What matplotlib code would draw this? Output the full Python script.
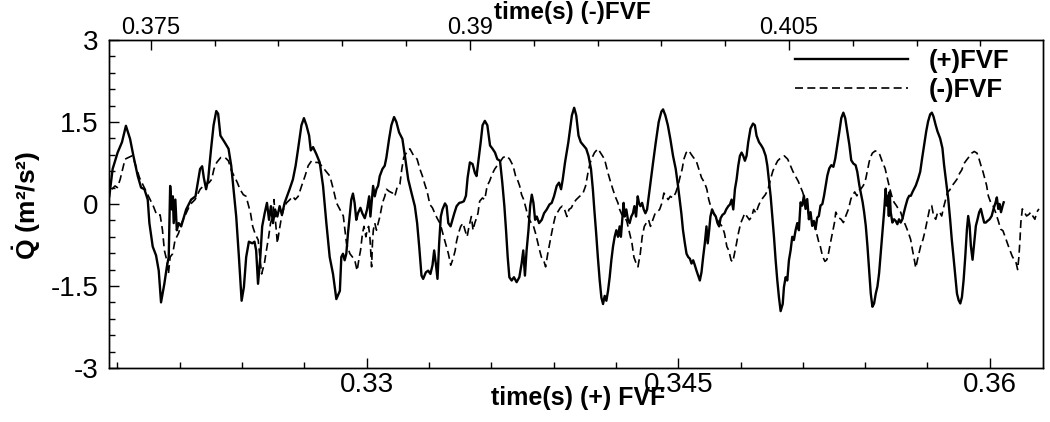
import matplotlib
matplotlib.use("Agg")
import matplotlib.pyplot as plt
from matplotlib.ticker import MultipleLocator

plt.rcParams['font.family'] = 'Liberation Sans'
plt.rcParams['mathtext.fontset'] = 'custom'
plt.rcParams['mathtext.rm'] = 'Liberation Sans'
plt.rcParams['mathtext.bf'] = 'Liberation Sans:bold'

# ------------------------------------------------------------
# data
# ------------------------------------------------------------

# (+)FVF, solid line, bottom time axis
t_pos = [
    0.31761, 0.31777, 0.31801, 0.31822, 0.31841, 0.31861, 0.31877, 0.31898, 0.31914, 0.31930,
    0.31946, 0.31954, 0.31970, 0.31986, 0.31999, 0.32010, 0.32026, 0.32038, 0.32047, 0.32054,
    0.32062, 0.32067, 0.32071, 0.32079, 0.32086, 0.32095, 0.32107, 0.32131, 0.32155, 0.32176,
    0.32187, 0.32198, 0.32208, 0.32216, 0.32227, 0.32237, 0.32243, 0.32251, 0.32263, 0.32276,
    0.32285, 0.32296, 0.32316, 0.32335, 0.32348, 0.32359, 0.32372, 0.32385, 0.32398, 0.32409,
    0.32420, 0.32433, 0.32449, 0.32460, 0.32468, 0.32477, 0.32488, 0.32497, 0.32509, 0.32520,
    0.32530, 0.32539, 0.32549, 0.32559, 0.32570, 0.32581, 0.32592, 0.32605, 0.32629, 0.32645,
    0.32658, 0.32670, 0.32686, 0.32698, 0.32710, 0.32723, 0.32731, 0.32742, 0.32758, 0.32774,
    0.32790, 0.32806, 0.32822, 0.32838, 0.32854, 0.32871,
    0.32878, 0.32886, 0.32894, 0.32902, 0.32910, 0.32918, 0.32926, 0.32934, 0.32942, 0.32950,
    0.32958, 0.32970, 0.32979, 0.32991, 0.33002, 0.33012, 0.33018, 0.33024, 0.33031, 0.33039,
    0.33047, 0.33055, 0.33063, 0.33076, 0.33087, 0.33095, 0.33108, 0.33119, 0.33132, 0.33143,
    0.33156, 0.33172, 0.33184, 0.33200, 0.33216, 0.33232, 0.33243, 0.33253, 0.33264, 0.33272,
    0.33285, 0.33296, 0.33307, 0.33317, 0.33325, 0.33333, 0.33341, 0.33349, 0.33357, 0.33365,
    0.33377, 0.33385, 0.33393, 0.33404, 0.33413, 0.33422, 0.33433, 0.33446, 0.33457, 0.33468,
    0.33478, 0.33486, 0.33497, 0.33510, 0.33521, 0.33529, 0.33537, 0.33549, 0.33558, 0.33569,
    0.33581, 0.33594, 0.33606, 0.33618, 0.33629, 0.33642, 0.33653, 0.33663, 0.33671, 0.33679,
    0.33687, 0.33698, 0.33709, 0.33722, 0.33735, 0.33746, 0.33754, 0.33762, 0.33770, 0.33779,
    0.33787, 0.33795, 0.33803, 0.33811, 0.33819, 0.33830, 0.33843, 0.33854, 0.33867, 0.33880,
    0.33891, 0.33902, 0.33915, 0.33926, 0.33936, 0.33944, 0.33955, 0.33971,
    0.33988, 0.33999, 0.34009, 0.34020, 0.34031, 0.34044, 0.34057, 0.34068, 0.34080, 0.34089,
    0.34096, 0.34105, 0.34113, 0.34122, 0.34130, 0.34138, 0.34146, 0.34154, 0.34162, 0.34170,
    0.34178, 0.34186, 0.34194, 0.34202, 0.34210, 0.34218, 0.34224, 0.34232, 0.34237, 0.34242,
    0.34250, 0.34258, 0.34266, 0.34274, 0.34282, 0.34289, 0.34297, 0.34305, 0.34311, 0.34318,
    0.34326, 0.34334, 0.34342, 0.34350, 0.34358, 0.34366, 0.34379, 0.34392, 0.34406, 0.34419,
    0.34427, 0.34438, 0.34450, 0.34462, 0.34475, 0.34488, 0.34499, 0.34507, 0.34515, 0.34523,
    0.34532, 0.34540, 0.34548, 0.34556, 0.34564, 0.34572, 0.34580, 0.34588, 0.34596, 0.34604,
    0.34612, 0.34620, 0.34628, 0.34636, 0.34642, 0.34649, 0.34655, 0.34663, 0.34671, 0.34681,
    0.34689, 0.34697, 0.34704, 0.34713, 0.34723, 0.34731, 0.34741, 0.34749, 0.34757, 0.34765,
    0.34773, 0.34781, 0.34789, 0.34797, 0.34805, 0.34813, 0.34821, 0.34829, 0.34837, 0.34848,
    0.34860, 0.34869, 0.34877, 0.34889, 0.34900, 0.34909, 0.34921, 0.34929, 0.34938, 0.34945,
    0.34953, 0.34961, 0.34969, 0.34977, 0.34985, 0.34993, 0.35003, 0.35009, 0.35017, 0.35025,
    0.35033, 0.35041, 0.35049, 0.35057, 0.35065, 0.35073, 0.35081,
    0.35089, 0.35097, 0.35105, 0.35113, 0.35121, 0.35129, 0.35137, 0.35145, 0.35153, 0.35161,
    0.35169, 0.35177, 0.35185, 0.35194, 0.35202, 0.35210, 0.35218, 0.35227, 0.35237, 0.35247,
    0.35256, 0.35266, 0.35276, 0.35285, 0.35295, 0.35304, 0.35314, 0.35324, 0.35333, 0.35343,
    0.35354, 0.35362, 0.35372, 0.35378, 0.35388, 0.35395, 0.35403, 0.35411, 0.35419, 0.35427,
    0.35435, 0.35443, 0.35451, 0.35459, 0.35467, 0.35475, 0.35483, 0.35491, 0.35499, 0.35504,
    0.35509, 0.35514, 0.35518, 0.35523, 0.35531, 0.35539, 0.35547, 0.35555, 0.35563, 0.35571,
    0.35579, 0.35587, 0.35595, 0.35604, 0.35612, 0.35620, 0.35628, 0.35636, 0.35644, 0.35655,
    0.35665, 0.35674, 0.35684, 0.35694, 0.35703, 0.35713, 0.35721, 0.35729, 0.35739, 0.35748,
    0.35761, 0.35772, 0.35780, 0.35790, 0.35800, 0.35809, 0.35817, 0.35825, 0.35834, 0.35842,
    0.35850, 0.35858, 0.35866, 0.35874, 0.35882, 0.35890, 0.35896, 0.35903, 0.35909, 0.35917,
    0.35925, 0.35933, 0.35941, 0.35949, 0.35957, 0.35965, 0.35973, 0.35981, 0.35989, 0.35999,
    0.36009, 0.36018, 0.36028, 0.36034, 0.36041, 0.36047, 0.36054, 0.36062, 0.36067,
]
q_pos = [
    0.14, 0.64, 0.94, 1.13, 1.43, 1.19, 0.88, 0.51, 0.30, 0.27,
    0.08, -0.35, -0.78, -0.94, -1.22, -1.80, -1.46, -1.15, -0.97, 0.33,
    -0.10, 0.14, -0.35, 0.08, -0.48, -0.35, -0.41, -0.10, 0.08, 0.14,
    0.39, 0.64, 0.69, 0.48, 0.27, 0.45, 0.70, 1.01, 1.44, 1.70,
    1.65, 1.25, 1.13, 1.01, 0.70, 0.27, -0.23, -0.97, -1.77, -1.52,
    -0.97, -0.69, -0.72, -0.69, -0.85, -1.46, -0.97, -0.41, -0.17, 0.02,
    -0.29, -0.04, -0.35, -0.10, -0.23, -0.04, -0.20, 0.02, 0.27, 0.45,
    0.70, 1.01, 1.44, 1.57, 1.44, 1.25, 0.98, 1.04, 0.91, 0.76,
    0.33, -0.35, -0.97, -1.28, -1.74, -1.59,
    -0.97, -0.91, -1.03, -0.91, -0.54, -0.23, 0.08, 0.19, 0.02, -0.29,
    -0.17, -0.07, -0.17, -0.26, -0.10, 0.14, -0.23, 0.02, 0.33, 0.14,
    0.27, 0.33, 0.51, 0.64, 0.70, 0.85, 1.19, 1.44, 1.59, 1.50,
    1.31, 1.19, 0.88, 0.45, 0.20, -0.04, -0.35, -0.78, -1.31, -1.37,
    -1.25, -1.22, -1.28, -1.12, -0.85, -1.09, -1.37, -0.72, -0.23, -0.10,
    0.01, -0.04, -0.35, -0.41, -0.29, -0.17, -0.04, 0.02, 0.03, 0.05,
    0.15, 0.48, 0.76, 0.73, 0.57, 0.51, 0.76, 1.13, 1.44, 1.52,
    1.44, 1.07, 1.01, 0.94, 0.82, 0.79, 0.39, -0.04, -0.48, -0.97,
    -1.34, -1.40, -1.34, -1.43, -1.34, -1.09, -0.85, -1.31, -0.85, -0.48,
    -0.04, 0.17, 0.02, -0.29, -0.23, -0.35, -0.29, -0.17, -0.10, -0.01,
    0.02, 0.14, 0.33, 0.39, 0.27, 0.45, 0.76, 1.13,
    1.62, 1.76, 1.62, 1.25, 1.13, 1.07, 1.01, 0.88, 0.64, 0.27,
    -0.10, -0.54, -0.97, -1.40, -1.71, -1.83, -1.68, -1.77, -1.59, -1.34,
    -1.03, -0.78, -0.60, -0.48, -0.60, -0.41, -0.60, -0.23, 0.02, -0.23,
    -0.10, -0.29, -0.35, -0.23, -0.17, -0.04, -0.23, 0.14, 0.02, -0.04,
    0.02, -0.10, -0.17, -0.10, 0.14, 0.39, 0.76, 1.13, 1.50, 1.69,
    1.73, 1.62, 1.44, 1.19, 0.88, 0.64, 0.33, 0.08, -0.17, -0.48,
    -0.72, -0.91, -0.97, -1.00, -1.09, -1.03, -1.12, -1.22, -1.31, -1.40,
    -1.25, -0.97, -0.72, -0.41, -0.72, -0.48, -0.23, -0.10, -0.17, -0.23,
    -0.35, -0.41, -0.26, -0.20, -0.17, -0.10, -0.04, -0.01, 0.08, -0.10,
    0.27, 0.45, 0.70, 0.88, 0.94, 0.88, 0.79, 0.88, 1.13, 1.38,
    1.47, 1.44, 1.25, 1.13, 1.07, 1.01, 0.88, 0.70, 0.39, 0.14,
    -0.23, -0.60, -1.03, -1.40, -1.71, -1.96, -1.83, -1.52, -1.34, -1.40,
    -1.03, -0.85, -0.60, -0.66, -0.48, -0.35, -0.48,
    0.03, -0.03, 0.15, -0.09, 0.09, -0.28, -0.15, -0.40, -0.31, -0.46,
    -0.25, -0.22, -0.03, 0.00, 0.15, 0.34, 0.52, 0.65, 0.71, 0.68,
    0.83, 1.08, 1.33, 1.57, 1.67, 1.57, 1.33, 1.08, 0.80, 0.74,
    0.71, 0.59, 0.34, 0.22, 0.03, -0.15, -0.40, -0.77, -1.20, -1.64,
    -1.88, -1.82, -1.64, -1.51, -1.27, -0.90, -0.52, -0.15, 0.28, -0.03,
    0.15, -0.22, 0.22, -0.15, -0.34, -0.28, -0.31, -0.37, -0.28, -0.34,
    -0.28, -0.15, -0.03, 0.09, 0.15, 0.15, 0.22, 0.28, 0.34, 0.46,
    0.59, 0.83, 1.08, 1.33, 1.51, 1.64, 1.67, 1.60, 1.45, 1.33,
    1.20, 1.02, 0.71, 0.40, 0.09, -0.28, -0.65, -0.96, -1.33, -1.64,
    -1.76, -1.82, -1.70, -1.39, -0.96, -0.46, -0.22, -0.40, -0.77, -1.02,
    -0.71, -0.40, -0.28, -0.15, -0.09, -0.22, -0.34, -0.34, -0.31, -0.28,
    -0.22, -0.09, 0.03, 0.12, -0.09, 0.00, -0.15, -0.03, 0.03,
]

# (-)FVF, dashed line, top time axis
t_neg = [
    0.37317, 0.37332, 0.37343, 0.37356, 0.37368, 0.37379, 0.37395, 0.37411, 0.37422, 0.37434,
    0.37447, 0.37458, 0.37473, 0.37497, 0.37512, 0.37528, 0.37544, 0.37555, 0.37564, 0.37575,
    0.37583, 0.37591, 0.37603, 0.37614, 0.37630, 0.37645, 0.37666, 0.37685, 0.37708, 0.37732,
    0.37755, 0.37774, 0.37786, 0.37797, 0.37810, 0.37829, 0.37849, 0.37865, 0.37880, 0.37896,
    0.37907, 0.37919, 0.37935, 0.37948, 0.37958, 0.37969, 0.37979, 0.37990, 0.38005, 0.38021,
    0.38034, 0.38041, 0.38054, 0.38063, 0.38073, 0.38079, 0.38087, 0.38095, 0.38104, 0.38115,
    0.38126, 0.38138, 0.38154, 0.38167, 0.38179, 0.38193, 0.38209, 0.38225, 0.38240, 0.38256,
    0.38271, 0.38287, 0.38303, 0.38323, 0.38342, 0.38358, 0.38373, 0.38389,
    0.38405, 0.38420, 0.38436, 0.38448, 0.38459, 0.38470, 0.38480, 0.38486, 0.38495, 0.38502,
    0.38511, 0.38517, 0.38524, 0.38530, 0.38538, 0.38542, 0.38546, 0.38553, 0.38561, 0.38569,
    0.38577, 0.38589, 0.38600, 0.38608, 0.38621, 0.38636, 0.38647, 0.38658, 0.38671, 0.38680,
    0.38689, 0.38702, 0.38718, 0.38736, 0.38752, 0.38765, 0.38777, 0.38788, 0.38799, 0.38812,
    0.38824, 0.38835, 0.38846, 0.38859, 0.38866, 0.38877, 0.38890, 0.38899, 0.38910, 0.38921,
    0.38931, 0.38937, 0.38946, 0.38957, 0.38968, 0.38977, 0.38987, 0.38996, 0.39007, 0.39015,
    0.39023, 0.39031, 0.39038, 0.39046, 0.39059, 0.39070, 0.39081, 0.39093, 0.39104, 0.39117,
    0.39128, 0.39140, 0.39156, 0.39172, 0.39187, 0.39203, 0.39215, 0.39226, 0.39234, 0.39243,
    0.39253, 0.39265, 0.39273, 0.39284, 0.39297, 0.39309, 0.39320, 0.39328, 0.39336, 0.39347,
    0.39356, 0.39366, 0.39375, 0.39384, 0.39394, 0.39403, 0.39414, 0.39425, 0.39434, 0.39445,
    0.39456, 0.39466,
    0.39477, 0.39488, 0.39500, 0.39516, 0.39532, 0.39544, 0.39555, 0.39566, 0.39575, 0.39586,
    0.39602, 0.39618, 0.39633, 0.39649, 0.39660, 0.39672, 0.39683, 0.39696, 0.39704, 0.39715,
    0.39727, 0.39738, 0.39751, 0.39762, 0.39771, 0.39782, 0.39790, 0.39801, 0.39810, 0.39820,
    0.39829, 0.39840, 0.39849, 0.39860, 0.39871, 0.39882, 0.39892, 0.39903, 0.39912, 0.39923,
    0.39932, 0.39942, 0.39954, 0.39967, 0.39978, 0.39989, 0.39998, 0.40006, 0.40017, 0.40029,
    0.40040, 0.40051, 0.40064, 0.40076, 0.40089, 0.40103, 0.40114, 0.40123, 0.40134, 0.40145,
    0.40158, 0.40173, 0.40186, 0.40197, 0.40208, 0.40217, 0.40228, 0.40236, 0.40244, 0.40252,
    0.40262, 0.40273, 0.40283, 0.40292, 0.40303, 0.40314, 0.40325, 0.40334, 0.40345, 0.40356,
    0.40366, 0.40377, 0.40389, 0.40402, 0.40413, 0.40424, 0.40435, 0.40447, 0.40463, 0.40478,
    0.40494, 0.40507, 0.40518, 0.40530, 0.40543,
    0.40564, 0.40579, 0.40595, 0.40607, 0.40618, 0.40629, 0.40639, 0.40647, 0.40658, 0.40669,
    0.40678, 0.40686, 0.40695, 0.40705, 0.40714, 0.40720, 0.40733, 0.40745, 0.40756, 0.40767,
    0.40780, 0.40791, 0.40798, 0.40809, 0.40819, 0.40830, 0.40839, 0.40850, 0.40861, 0.40869,
    0.40877, 0.40884, 0.40892, 0.40905, 0.40916, 0.40927, 0.40939, 0.40952, 0.40963, 0.40974,
    0.40983, 0.40994, 0.41005, 0.41014, 0.41025, 0.41036, 0.41049, 0.41061, 0.41072, 0.41080,
    0.41088, 0.41096, 0.41104, 0.41111, 0.41119, 0.41130, 0.41140, 0.41151, 0.41161, 0.41171,
    0.41180, 0.41190, 0.41199, 0.41208, 0.41218, 0.41229, 0.41237, 0.41246, 0.41255, 0.41268,
    0.41280, 0.41291, 0.41302, 0.41312, 0.41323, 0.41334, 0.41346, 0.41359, 0.41371, 0.41384,
    0.41393, 0.41402, 0.41412, 0.41421, 0.41429, 0.41437, 0.41448, 0.41459, 0.41471, 0.41484,
    0.41495, 0.41506, 0.41515, 0.41526, 0.41537, 0.41550, 0.41559, 0.41568, 0.41575, 0.41581,
    0.41586, 0.41590, 0.41597, 0.41606, 0.41617, 0.41628, 0.41637, 0.41646, 0.41656, 0.41665,
    0.41675,
]
q_neg = [
    0.27, 0.33, 0.30, 0.45, 0.64, 0.82, 0.85, 0.88, 0.79, 0.64,
    0.48, 0.39, 0.27, 0.08, -0.04, -0.20, -0.20, -0.48, -0.85, -1.03,
    -1.28, -0.97, -0.91, -0.66, -0.54, -0.35, -0.17, -0.01, 0.08, 0.27,
    0.36, 0.39, 0.45, 0.64, 0.76, 0.85, 0.85, 0.79, 0.60, 0.48,
    0.39, 0.27, 0.17, 0.14, -0.01, -0.17, -0.41, -0.54, -0.66, -1.28,
    -1.09, -0.91, -0.60, -0.35, -0.23, 0.08, -0.35, -0.72, -0.48, -0.23,
    -0.07, 0.02, 0.08, 0.14, 0.08, 0.14, 0.33, 0.51, 0.70, 0.79,
    0.76, 0.76, 0.70, 0.60, 0.51, 0.27, 0.02, -0.10,
    -0.22, -0.72, -0.91, -0.97, -1.03, -1.22, -0.97, -0.85, -0.54, -0.41,
    -0.60, -0.48, -0.41, -0.60, -1.15, -0.72, -0.48, -0.35, -0.48, -0.35,
    -0.23, 0.02, 0.14, 0.27, 0.23, 0.20, 0.14, 0.30, 0.36, 0.64,
    0.85, 0.94, 1.01, 0.88, 0.82, 0.64, 0.51, 0.36, 0.23, -0.01,
    -0.07, -0.17, -0.26, -0.35, -0.44, -0.60, -0.78, -0.91, -1.12, -1.00,
    -0.85, -0.69, -0.54, -0.41, -0.35, -0.48, -0.60, -0.41, -0.23, -0.48,
    -0.35, -0.26, -0.17, 0.05, 0.11, 0.08, 0.33, 0.42, 0.54, 0.64,
    0.70, 0.76, 0.85, 0.88, 0.82, 0.70, 0.51, 0.42, 0.33, 0.17,
    0.08, -0.10, -0.23, -0.32, -0.38, -0.54, -0.72, -0.85, -0.97, -1.03,
    -1.15, -0.91, -0.72, -0.54, -0.35, -0.20, -0.14, -0.07, -0.04, -0.10,
    -0.23, -0.10,
    -0.07, 0.02, 0.08, 0.14, 0.20, 0.33, 0.57, 0.76, 0.85, 0.94,
    1.01, 0.91, 0.82, 0.57, 0.42, 0.27, 0.14, 0.02, -0.10, -0.20,
    -0.23, -0.32, -0.54, -0.72, -0.97, -1.09, -1.15, -0.91, -0.60, -0.41,
    -0.35, -0.29, -0.41, -0.29, -0.17, -0.14, -0.10, 0.02, 0.20, 0.14,
    0.08, 0.14, 0.11, 0.20, 0.33, 0.51, 0.64, 0.82, 0.94, 0.98,
    0.91, 0.85, 0.79, 0.64, 0.48, 0.39, 0.27, 0.08, -0.07, -0.17,
    -0.26, -0.35, -0.41, -0.54, -0.78, -0.85, -1.03, -1.06, -0.91, -0.75,
    -0.54, -0.35, -0.26, -0.17, -0.23, -0.29, -0.23, -0.10, -0.17, -0.04,
    0.05, 0.11, 0.17, 0.27, 0.45, 0.60, 0.70, 0.79, 0.85, 0.88,
    0.82, 0.70, 0.60, 0.51, 0.42,
    0.22, 0.03, -0.22, -0.31, -0.37, -0.52, -0.68, -0.77, -0.96, -1.05,
    -1.02, -0.90, -0.71, -0.52, -0.34, -0.15, -0.25, -0.28, -0.34, -0.22,
    -0.09, 0.09, 0.15, 0.22, 0.15, 0.25, 0.28, 0.34, 0.46, 0.62,
    0.77, 0.86, 0.93, 0.97, 0.96, 0.90, 0.77, 0.65, 0.46, 0.28,
    0.15, 0.03, -0.03, -0.09, -0.15, -0.28, -0.40, -0.52, -0.65, -0.83,
    -0.99, -1.17, -1.02, -0.90, -0.77, -0.65, -0.49, -0.28, -0.09, -0.03,
    -0.22, -0.28, -0.15, -0.15, -0.22, -0.03, 0.09, 0.22, 0.25, 0.34,
    0.40, 0.46, 0.56, 0.62, 0.74, 0.80, 0.86, 0.93, 0.96, 0.93,
    0.83, 0.71, 0.59, 0.46, 0.34, 0.15, 0.03, -0.03, -0.15, -0.31,
    -0.46, -0.49, -0.59, -0.71, -0.83, -0.96, -1.02, -1.08, -1.20, -0.96,
    -0.65, -0.34, -0.09, -0.15, -0.22, -0.19, -0.15, -0.22, -0.28, -0.15,
    -0.09,
]

bottom_ticks = [0.33, 0.345, 0.36]
bottom_labels = ['0.33', '0.345', '0.36']
top_ticks = [0.375, 0.39, 0.405]
top_labels = ['0.375', '0.39', '0.405']
y_ticks = [-3, -1.5, 0, 1.5, 3]
y_labels = ['-3', '-1.5', '0', '1.5', '3']

# ------------------------------------------------------------
# figure
# ------------------------------------------------------------

fig = plt.figure(figsize=(10.5, 4.22), dpi=100)
ax = fig.add_axes([0.1041, 0.1280, 0.8892, 0.7773])
ax2 = ax.twiny()

line_pos, = ax.plot(t_pos, q_pos, color='black', lw=1.7, label='(+)FVF')
line_neg, = ax2.plot(t_neg, q_neg, color='black', lw=1.2, dashes=(4.8, 2.6),
                     label='(-)FVF')

ax.set_xlim(0.31761, 0.36256)
ax2.set_xlim(0.37305, 0.41694)
ax.set_ylim(-3, 3)

ax.set_xticks(bottom_ticks)
ax.set_xticklabels(bottom_labels, fontsize=20)
ax.xaxis.set_minor_locator(MultipleLocator(0.003))
ax2.set_xticks(top_ticks)
ax2.set_xticklabels(top_labels, fontsize=17)
ax2.xaxis.set_minor_locator(MultipleLocator(0.003))
ax.set_yticks(y_ticks)
ax.set_yticklabels(y_labels, fontsize=20)
ax.yaxis.set_minor_locator(MultipleLocator(0.3))

ax.tick_params(axis='x', which='both', direction='in', bottom=True, top=False, pad=3)
ax.tick_params(axis='y', which='both', direction='in', left=True, right=False, pad=8)
ax2.tick_params(axis='x', which='both', direction='in', top=True, bottom=False, pad=1)
for a in (ax, ax2):
    a.tick_params(which='major', length=7, width=1)
    a.tick_params(which='minor', length=4, width=1)
    for s in a.spines.values():
        s.set_linewidth(1.0)

fig.text(27 / 1050, 1 - 205 / 422, r'$\mathbf{\dot{Q}}$ (m²/s²)', rotation=90,
         ha='center', va='center', fontsize=19, fontweight='bold')
fig.text(578 / 1050, 1 - 398 / 422, 'time(s) (+) FVF', ha='center', va='center',
         fontsize=18, fontweight='bold')
fig.text(572 / 1050, 1 - 12 / 422, 'time(s) (-)FVF', ha='center', va='center',
         fontsize=17.5, fontweight='bold')

ax2.legend(handles=[line_pos, line_neg], loc='upper left',
           bbox_to_anchor=(795 / 1050, 1 - 49 / 422), bbox_transform=fig.transFigure,
           frameon=False, prop={'weight': 'bold', 'size': 18.5}, handlelength=4.4,
           handletextpad=0.8, labelspacing=0.2, borderpad=0, borderaxespad=0)

fig.savefig('out.png', dpi=100)
